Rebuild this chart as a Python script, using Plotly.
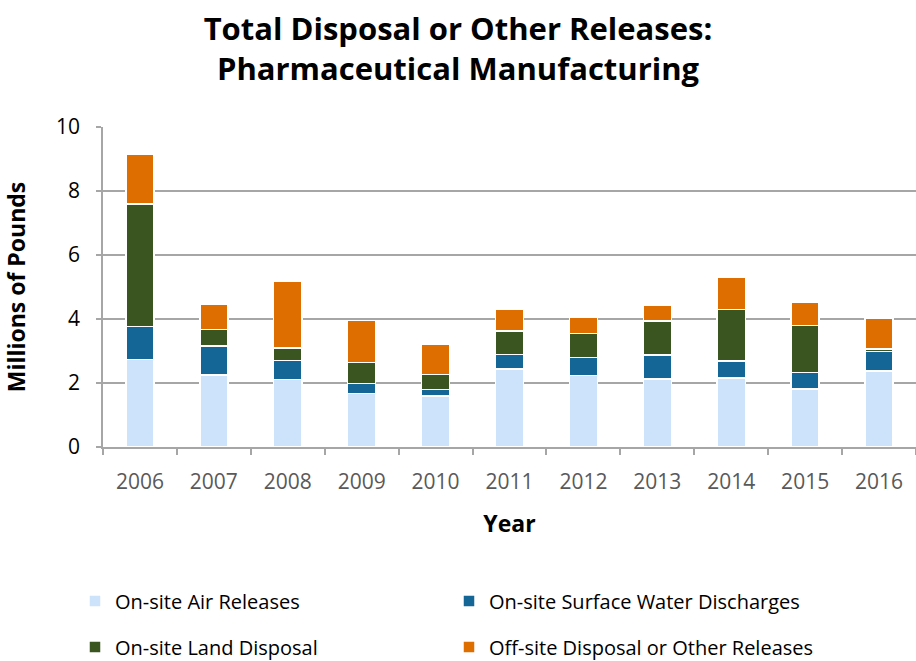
import plotly.graph_objects as go

years = ["2006", "2007", "2008", "2009", "2010", "2011", "2012", "2013", "2014", "2015", "2016"]
air = [2.74, 2.25, 2.11, 1.67, 1.60, 2.43, 2.23, 2.13, 2.16, 1.81, 2.38]
water = [1.03, 0.91, 0.59, 0.31, 0.19, 0.46, 0.56, 0.75, 0.52, 0.52, 0.61]
land = [3.83, 0.51, 0.39, 0.66, 0.47, 0.73, 0.75, 1.05, 1.61, 1.47, 0.08]
offsite = [1.56, 0.80, 2.09, 1.32, 0.96, 0.67, 0.53, 0.51, 1.03, 0.72, 0.94]

series = [
    ("On-site Air Releases", air, "#CCE3FB", "legend"),
    ("On-site Surface Water Discharges", water, "#136695", "legend"),
    ("On-site Land Disposal", land, "#3A5520", "legend2"),
    ("Off-site Disposal or Other Releases", offsite, "#DE6E00", "legend2"),
]

FONT = "Open Sans"
W, H = 916, 661
fig = go.Figure()
for name, vals, color, lg in series:
    fig.add_trace(go.Bar(
        x=years, y=vals, name=name, legend=lg,
        marker=dict(color=color, line=dict(color="white", width=1.5)),
    ))

legend_common = dict(
    orientation="h", xanchor="left", yanchor="middle",
    xref="container", yref="container", x=75 / W,
    font=dict(family=FONT, size=20, color="#000000"),
    entrywidth=329, entrywidthmode="pixels",
    itemwidth=30, traceorder="normal", bgcolor="rgba(0,0,0,0)",
)

fig.update_layout(
    barmode="stack",
    bargap=0.62,
    width=W, height=H,
    paper_bgcolor="white", plot_bgcolor="white",
    margin=dict(l=103, r=0, t=127, b=214, autoexpand=False),
    font=dict(family=FONT, color="#000000"),
    title=dict(
        text="<b>Total Disposal or Other Releases:<br>Pharmaceutical Manufacturing</b>",
        x=0.5, xanchor="center", xref="container", yref="container",
        y=1 - 40 / H, yanchor="middle",
        font=dict(family=FONT, size=31, color="#000000"),
    ),
    xaxis=dict(
        title=dict(text="<b>Year</b>", font=dict(family=FONT, size=23, color="#000000"), standoff=22),
        tickfont=dict(family=FONT, size=21, color="#595959"),
        ticklabelstandoff=15,
        showline=True, linecolor="#A6A6A6", linewidth=1.5,
        ticks="outside", tickson="boundaries", ticklen=6, tickcolor="#A6A6A6", tickwidth=1.5,
        showgrid=False,
    ),
    yaxis=dict(
        title=dict(text="<b>Millions of Pounds</b>", font=dict(family=FONT, size=23, color="#000000"), standoff=26),
        range=[0, 10], dtick=2,
        tickfont=dict(family=FONT, size=21, color="#000000"),
        ticklabelstandoff=12,
        showline=True, linecolor="#A6A6A6", linewidth=1.5,
        ticks="outside", ticklen=5, tickcolor="#A6A6A6", tickwidth=1.5,
        showgrid=True, gridcolor="#A6A6A6", gridwidth=1.5,
        zeroline=False,
    ),
    legend=dict(y=1 - 601 / H, **legend_common),
    legend2=dict(y=1 - 647 / H, **legend_common),
)

fig.write_html("out.html", config={"displayModeBar": False},
               post_script="document.body.style.margin='0';")
